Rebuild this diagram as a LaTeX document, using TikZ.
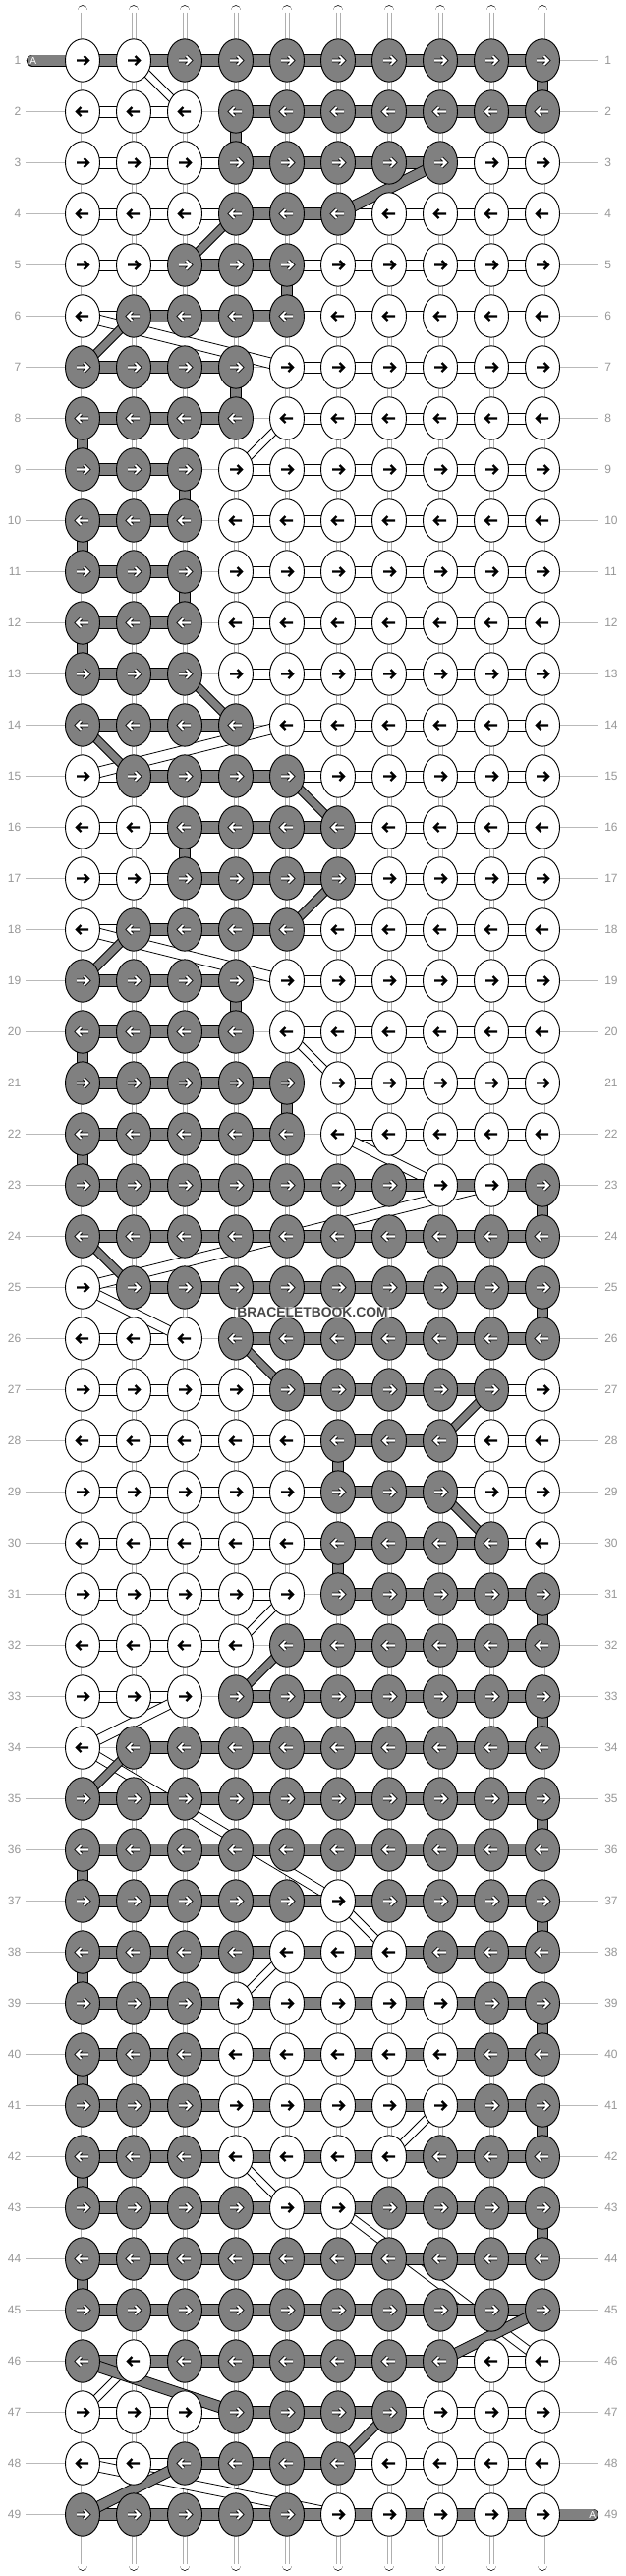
\documentclass[tikz,border=0pt]{standalone}
\usepackage{fontspec}
\setmainfont{Liberation Sans}
\usetikzlibrary{shapes,calc,positioning}

\definecolor{knotgray}{RGB}{128,128,128}
\definecolor{numgray}{RGB}{150,150,150}
\definecolor{linegray}{RGB}{185,185,185}
\definecolor{stringline}{RGB}{175,175,175}

\pgfdeclarelayer{guide}
\pgfdeclarelayer{whitethreads}
\pgfdeclarelayer{graythreads}
\pgfsetlayers{guide,whitethreads,graythreads,main}

\tikzset{
  %Define style for knots
  knot/.style={ellipse, draw=black, line width=0.7pt,
    minimum width=26.25pt, minimum height=32.5pt, inner sep=0pt},
  knotw/.style={knot, fill=white},
  knotg/.style={knot, fill=knotgray},
  %Row numbers and their lines
  rowno/.style={text=numgray, font=\fontsize{9}{9}\selectfont, inner sep=0pt},
  rowline/.style={draw=linegray, line width=0.75pt},
  %Threads
  outl/.style={draw=black, line width=0.6pt},
  basestring/.style={draw=black, line width=0.6pt, double=white,
    double distance=6.8pt, line cap=round},
  tail/.style={draw=black, line width=0.6pt, double=knotgray,
    double distance=7.8pt, line cap=round},
  taillabel/.style={text=white, font=\fontsize{7.6}{7.6}\selectfont, inner sep=0pt},
  wmark/.style={font=\bfseries\fontsize{10.4}{10.4}\selectfont, text=black!72,
    fill=white, fill opacity=0.55, text opacity=1, inner sep=0.8pt},
  %Arrows in the knots
  fwd/.pic={\draw[line width=1.8pt, line cap=square]
    (-6,0) -- (6,0) (1.5,-4.5) -- (6,0) -- (1.5,4.5);},
  fwdw/.pic={\draw[line width=2.8pt, line cap=square]
    (-6,0) -- (6,0) (1.5,-4.5) -- (6,0) -- (1.5,4.5);
    \draw[white, line width=1.55pt, line cap=square]
    (-6,0) -- (6,0) (1.5,-4.5) -- (6,0) -- (1.5,4.5);}
}

% band between two knots, cut horizontally at both ends
\newcommand\gband[2]{%
  \fill[knotgray] ($(#1.center)+(0,-6)$) -- ($(#2.center)+(0,-6)$)
    -- ($(#2.center)+(0,6)$) -- ($(#1.center)+(0,6)$) -- cycle;
  \draw[outl] ($(#1.center)+(0,-6)$) -- ($(#2.center)+(0,-6)$)
    ($(#1.center)+(0,6)$) -- ($(#2.center)+(0,6)$);}
\newcommand\wband[2]{%
  \fill[white] ($(#1.center)+(0,-5.5)$) -- ($(#2.center)+(0,-5.5)$)
    -- ($(#2.center)+(0,5.5)$) -- ($(#1.center)+(0,5.5)$) -- cycle;
  \draw[outl] ($(#1.center)+(0,-5.5)$) -- ($(#2.center)+(0,-5.5)$)
    ($(#1.center)+(0,5.5)$) -- ($(#2.center)+(0,5.5)$);}
% gray thread going straight down to the next row
\newcommand\gdrop[2]{%
  \draw[outl, fill=knotgray] ($(#1.center)+(-5.5,0)$) rectangle ($(#2.center)+(5.5,0)$);}

\begin{document}
\begin{tikzpicture}[x=0.75pt, y=-0.75pt]
  \useasboundingbox (0,0) rectangle (636,2620);

  % knots
  \foreach \r/\cols in {
      1/{0,0,1,1,1,1,1,1,1,1}, 2/{0,0,0,1,1,1,1,1,1,1}, 3/{0,0,0,1,1,1,1,1,0,0},
      4/{0,0,0,1,1,1,0,0,0,0}, 5/{0,0,1,1,1,0,0,0,0,0}, 6/{0,1,1,1,1,0,0,0,0,0},
      7/{1,1,1,1,0,0,0,0,0,0}, 8/{1,1,1,1,0,0,0,0,0,0}, 9/{1,1,1,0,0,0,0,0,0,0},
      10/{1,1,1,0,0,0,0,0,0,0}, 11/{1,1,1,0,0,0,0,0,0,0}, 12/{1,1,1,0,0,0,0,0,0,0},
      13/{1,1,1,0,0,0,0,0,0,0}, 14/{1,1,1,1,0,0,0,0,0,0}, 15/{0,1,1,1,1,0,0,0,0,0},
      16/{0,0,1,1,1,1,0,0,0,0}, 17/{0,0,1,1,1,1,0,0,0,0}, 18/{0,1,1,1,1,0,0,0,0,0},
      19/{1,1,1,1,0,0,0,0,0,0}, 20/{1,1,1,1,0,0,0,0,0,0}, 21/{1,1,1,1,1,0,0,0,0,0},
      22/{1,1,1,1,1,0,0,0,0,0}, 23/{1,1,1,1,1,1,1,0,0,1}, 24/{1,1,1,1,1,1,1,1,1,1},
      25/{0,1,1,1,1,1,1,1,1,1}, 26/{0,0,0,1,1,1,1,1,1,1}, 27/{0,0,0,0,1,1,1,1,1,0},
      28/{0,0,0,0,0,1,1,1,0,0}, 29/{0,0,0,0,0,1,1,1,0,0}, 30/{0,0,0,0,0,1,1,1,1,0},
      31/{0,0,0,0,0,1,1,1,1,1}, 32/{0,0,0,0,1,1,1,1,1,1}, 33/{0,0,0,1,1,1,1,1,1,1},
      34/{0,1,1,1,1,1,1,1,1,1}, 35/{1,1,1,1,1,1,1,1,1,1}, 36/{1,1,1,1,1,1,1,1,1,1},
      37/{1,1,1,1,1,0,1,1,1,1}, 38/{1,1,1,1,0,0,0,1,1,1}, 39/{1,1,1,0,0,0,0,0,1,1},
      40/{1,1,1,0,0,0,0,0,1,1}, 41/{1,1,1,0,0,0,0,0,1,1}, 42/{1,1,1,0,0,0,0,1,1,1},
      43/{1,1,1,1,0,0,1,1,1,1}, 44/{1,1,1,1,1,1,1,1,1,1}, 45/{1,1,1,1,1,1,1,1,1,1},
      46/{1,0,1,1,1,1,1,1,0,0}, 47/{0,0,0,1,1,1,1,0,0,0}, 48/{0,0,1,1,1,1,0,0,0,0},
      49/{1,1,1,1,1,0,0,0,0,0}}{
    \ifodd\r \def\dir{1}\else\def\dir{-1}\fi
    \foreach \g [count=\c] in \cols {
      \ifnum\g=1
        \node[knotg] (k-\r-\c) at ({84+52*(\c-1)},{61.5+52*(\r-1)}) {};
        \pic[xscale=\dir] at (k-\r-\c) {fwdw};
      \else
        \node[knotw] (k-\r-\c) at ({84+52*(\c-1)},{61.5+52*(\r-1)}) {};
        \pic[xscale=\dir] at (k-\r-\c) {fwd};
      \fi
    }
  }

  % row numbers
  \foreach \r in {1,...,49} {
    \node[rowno, anchor=east] (ln-\r) at (21.5,{61.5+52*(\r-1)}) {\r};
    \node[rowno, anchor=west] (rn-\r) at (615,{61.5+52*(\r-1)}) {\r};
    \begin{pgfonlayer}{guide}
      \draw[rowline, shorten <=3.4pt, shorten >=4.5pt] (ln-\r.east) -- (rn-\r.west);
    \end{pgfonlayer}
  }

  % base strings
  \begin{pgfonlayer}{guide}
    \foreach \c in {1,...,10} {
      \coordinate (top-\c) at ({84+52*(\c-1)},10.5);
      \coordinate (bot-\c) at ({84+52*(\c-1)},2609.5);
      \draw[basestring] (top-\c) -- (bot-\c);
      \draw[stringline, line width=0.45pt] ($(top-\c)+(-1.8,2)$) -- ($(bot-\c)+(-1.8,-2)$)
        ($(top-\c)+(1.8,2)$) -- ($(bot-\c)+(1.8,-2)$);
    }
  \end{pgfonlayer}

  % white thread
  \begin{pgfonlayer}{whitethreads}
    \foreach \r/\a/\b in {2/1/3, 3/1/10, 4/1/10, 5/1/10, 6/1/10, 7/5/10, 8/5/10,
        9/4/10, 10/4/10, 11/4/10, 12/4/10, 13/4/10, 14/5/10, 15/1/10, 16/1/10,
        17/1/10, 18/1/10, 19/5/10, 20/5/10, 21/6/10, 22/6/10, 26/1/3, 27/1/10,
        28/1/10, 29/1/10, 30/1/10, 31/1/5, 32/1/4, 33/1/3, 46/2/10, 47/1/10, 48/1/10}
      \wband{k-\r-\a}{k-\r-\b};
    \foreach \ra/\ca/\rb/\cb in {1/2/2/3, 6/1/7/5, 8/5/9/4, 14/5/15/1, 18/1/19/5,
        20/5/21/6, 22/6/23/8, 23/9/25/1, 25/1/26/3, 31/5/32/4, 33/3/34/1, 34/1/37/6,
        37/6/38/7, 38/5/39/4, 41/8/42/7, 42/4/43/5, 43/6/46/10, 46/2/47/1, 48/1/49/6}
      \wband{k-\ra-\ca}{k-\rb-\cb};
  \end{pgfonlayer}

  % gray thread
  \begin{pgfonlayer}{graythreads}
    \coordinate (tail-l) at (33,61.5);
    \coordinate (tail-r) at (603,2557.5);
    \draw[tail] (tail-l) -- (k-1-1.center);
    \draw[tail] (k-49-10.center) -- (tail-r);
    \foreach \r/\a/\b in {1/1/10, 2/4/10, 3/4/8, 4/4/6, 5/3/5, 6/2/5, 7/1/4, 8/1/4,
        9/1/3, 10/1/3, 11/1/3, 12/1/3, 13/1/3, 14/1/4, 15/2/5, 16/3/6, 17/3/6,
        18/2/5, 19/1/4, 20/1/4, 21/1/5, 22/1/5, 23/1/10, 24/1/10, 25/2/10, 26/4/10,
        27/5/9, 28/6/8, 29/6/8, 30/6/9, 31/6/10, 32/5/10, 33/4/10, 34/2/10,
        35/1/10, 36/1/10, 37/1/10, 38/1/10, 39/1/10, 40/1/10, 41/1/10, 42/1/10,
        43/1/10, 44/1/10, 45/1/10, 46/1/8, 47/4/7, 48/3/6, 49/1/10}
      \gband{k-\r-\a}{k-\r-\b};
    \foreach \r/\c [evaluate=\r as \s using int(\r+1)] in {1/10, 2/4, 5/5, 7/4,
        8/1, 9/3, 10/1, 11/3, 12/1, 16/3, 19/4, 20/1, 21/5, 22/1, 23/10, 25/10,
        28/6, 30/6, 31/10, 33/10, 35/10, 36/1, 37/10, 38/1, 39/10, 40/1, 41/10,
        42/1, 43/10, 44/1}
      \gdrop{k-\r-\c}{k-\s-\c};
    \foreach \ra/\ca/\rb/\cb in {3/8/4/6, 4/4/5/3, 6/2/7/1, 13/3/14/4, 14/1/15/2,
        15/5/16/6, 17/6/18/5, 18/2/19/1, 24/1/25/2, 26/4/27/5, 27/9/28/8, 29/8/30/9,
        32/5/33/4, 34/2/35/1, 45/10/46/8, 46/1/47/4, 47/7/48/6, 48/3/49/1}
      \gband{k-\ra-\ca}{k-\rb-\cb};
  \end{pgfonlayer}

  \node[taillabel] (a-l) at (33.7,62) {A};
  \node[taillabel] (a-r) at (602.7,2557.5) {A};
  \node[wmark] (wm) at (318,1335) {BRACELETBOOK.COM};
\end{tikzpicture}
\end{document}
